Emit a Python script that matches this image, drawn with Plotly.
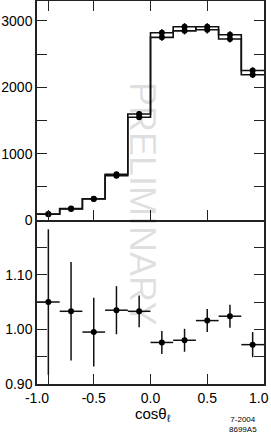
import plotly.graph_objects as go
from plotly.subplots import make_subplots

# ---- data ----
bin_centers = [-0.9, -0.7, -0.5, -0.3, -0.1, 0.1, 0.3, 0.5, 0.7, 0.9]
bin_edges = [-1.0, -0.8, -0.6, -0.4, -0.2, 0.0, 0.2, 0.4, 0.6, 0.8, 1.0]
series_a = [90, 172, 318, 690, 1598, 2752, 2850, 2912, 2792, 2188]
series_b = [86, 167, 320, 668, 1548, 2822, 2912, 2866, 2727, 2252]
err_a = [10, 13, 18, 26, 40, 52, 53, 54, 53, 47]
err_b = [9, 13, 18, 26, 39, 53, 54, 54, 52, 47]
ratio = [1.050, 1.033, 0.995, 1.035, 1.033, 0.976, 0.980, 1.016, 1.024, 0.972]
ratio_err = [0.133, 0.090, 0.063, 0.044, 0.029, 0.021, 0.021, 0.021, 0.021, 0.023]

top_tickvals = [0, 1000, 2000, 3000]
top_minorvals = [500, 1500, 2500]
bot_tickvals = [0.90, 1.00, 1.10]
bot_ticktext = ["0.90", "1.00", "1.10"]
bot_minorvals = [0.95, 1.05, 1.15]
x_tickvals = [-1.0, -0.5, 0.0, 0.5]
x_ticktext = ["-1.0", "-0.5", "0.0", "0.5"]
x_last_label = "1.0"
x_minorvals = [-0.9]

W, H = 271, 436
ML, MR, MT, MB = 37, 7, 1, 52
PH = H - MT - MB

fig = make_subplots(rows=2, cols=1, shared_xaxes=True, vertical_spacing=0,
                    row_heights=[219 / 383, 164 / 383])

LC = "#111111"

for s in (series_a, series_b):
    fig.add_trace(go.Scatter(x=bin_edges, y=s + [s[-1]], mode="lines", line_shape="hv",
                             line=dict(color=LC, width=1.6), hoverinfo="skip",
                             showlegend=False), row=1, col=1)

for s, e in ((series_a, err_a), (series_b, err_b)):
    fig.add_trace(go.Scatter(x=bin_centers, y=s, mode="markers",
                             marker=dict(color="black", size=6),
                             error_y=dict(type="data", array=e, color="black",
                                          thickness=1.5, width=0),
                             showlegend=False), row=1, col=1)

fig.add_hline(y=1.0, line=dict(color=LC, width=1.5), row=2, col=1)

fig.add_trace(go.Scatter(x=bin_centers, y=ratio, mode="markers",
                         marker=dict(color="black", size=6),
                         error_y=dict(type="data", array=ratio_err, color=LC,
                                      thickness=1.5, width=0),
                         error_x=dict(type="constant", value=0.1, color=LC,
                                      thickness=1.5, width=0),
                         showlegend=False), row=2, col=1)

axis_common = dict(showline=True, linecolor="#222222", linewidth=1.5,
                   ticks="inside", ticklen=10, tickwidth=1.2, tickcolor="#222222",
                   showgrid=False, zeroline=False, automargin=False, tickangle=0)

def minor(vals):
    return dict(tickvals=vals, ticks="inside", ticklen=10, tickwidth=1.2,
                tickcolor="#222222", showgrid=False)

fig.update_xaxes(range=[-1, 1], tickvals=x_tickvals, ticktext=x_ticktext,
                 minor=minor(x_minorvals), **axis_common)
fig.update_xaxes(mirror="ticks", showticklabels=False, row=1, col=1)
fig.update_xaxes(mirror=False, showticklabels=True, row=2, col=1)

fig.update_yaxes(range=[0, 3300], tickvals=top_tickvals, minor=minor(top_minorvals),
                 mirror="ticks", row=1, col=1, **axis_common)
fig.update_yaxes(range=[0.90, 1.20], tickvals=bot_tickvals, ticktext=bot_ticktext,
                 minor=minor(bot_minorvals),
                 mirror="ticks", row=2, col=1, **axis_common)

def px_x(x):
    return (x - ML) / (W - ML - MR)

def px_y(y):
    return (H - MB - y) / PH

def note(text, x, y, size, angle=0, color="black"):
    fig.add_annotation(text=text, textangle=angle, xref="paper", yref="paper",
                       x=px_x(x), y=px_y(y), xanchor="center", yanchor="middle",
                       showarrow=False,
                       font=dict(size=size, color=color,
                                 family="Liberation Sans, Arial"))

note("PRELIMINARY", 143, 203, 36, angle=90, color="rgba(0,0,0,0.13)")
note(x_last_label, 259, 398, 14)
note("cosθ<sub>ℓ</sub>", 153, 414, 15)
note("7-2004<br>8699A5", 243, 424, 8)

fig.update_layout(width=W, height=H, margin=dict(l=ML, r=MR, t=MT, b=MB, autoexpand=False),
                  plot_bgcolor="white", paper_bgcolor="white",
                  font=dict(family="Liberation Sans, Arial", size=14, color="black"),
                  showlegend=False)

fig.write_html("out.html", config={"displayModeBar": False},
               post_script="document.body.style.margin='0';")
